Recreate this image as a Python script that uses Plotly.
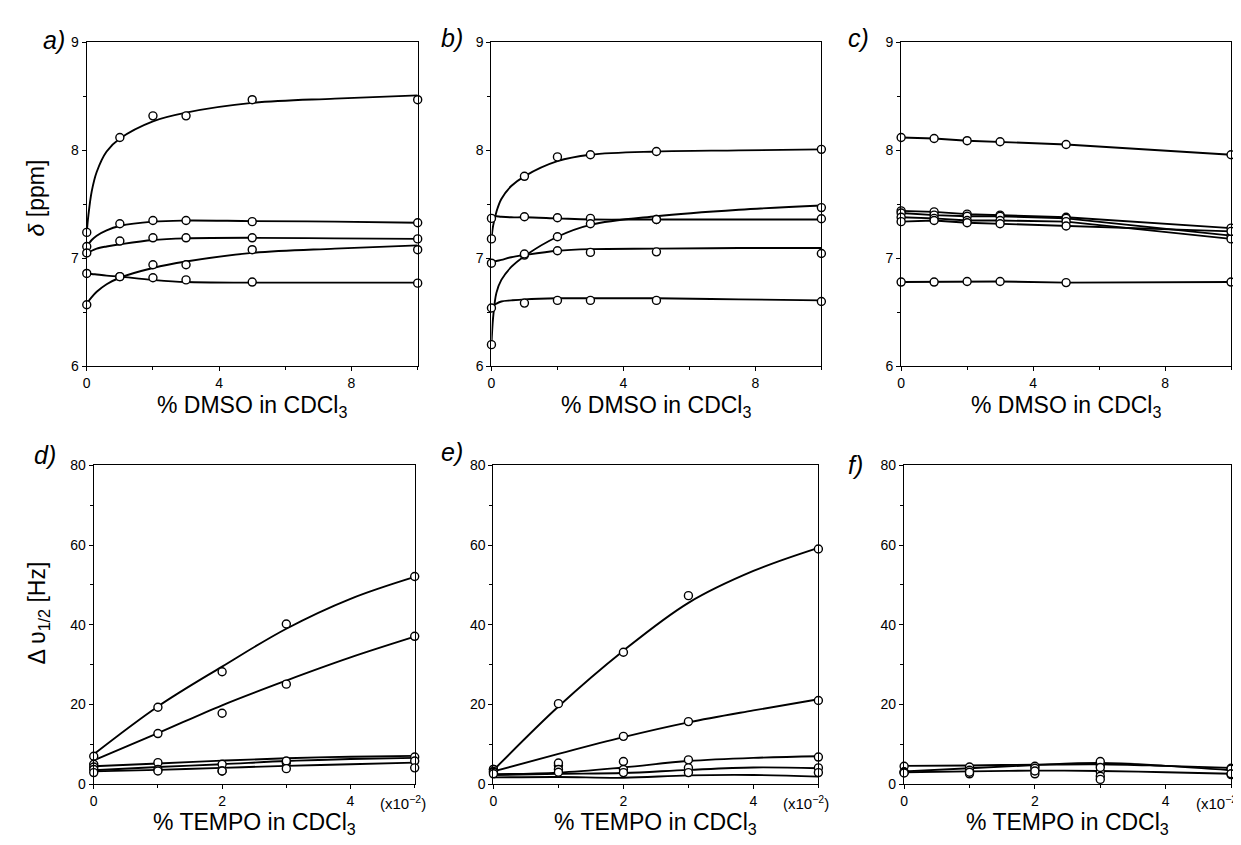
import plotly.graph_objects as go

W, H = 1241, 845

# ---------------- data ----------------
DMSO_X = [0, 1, 2, 3, 5, 10]
TEMPO_X = [0, 1, 2, 3, 5]
FIT_DMSO_X = [0, 0.05, 0.15, 0.3, 0.6, 1, 2, 3, 5, 7.5, 10]
FIT_TEMPO_X = [0, 1, 2, 3, 4, 5]

# panel a: chemical shift (ppm) vs % DMSO
a_pts_1 = [7.24, 8.12, 8.32, 8.32, 8.47, 8.47]
a_pts_2 = [7.11, 7.32, 7.35, 7.35, 7.34, 7.33]
a_pts_3 = [7.05, 7.16, 7.19, 7.19, 7.19, 7.18]
a_pts_4 = [6.57, 6.83, 6.94, 6.94, 7.08, 7.08]
a_pts_5 = [6.86, 6.83, 6.82, 6.80, 6.78, 6.77]
a_fit_1 = [7.24, 7.40, 7.62, 7.80, 7.99, 8.11, 8.27, 8.35, 8.44, 8.48, 8.51]
a_fit_2 = [7.11, 7.13, 7.17, 7.21, 7.26, 7.30, 7.34, 7.35, 7.345, 7.34, 7.33]
a_fit_3 = [7.04, 7.05, 7.07, 7.09, 7.11, 7.13, 7.17, 7.185, 7.19, 7.185, 7.18]
a_fit_4 = [6.57, 6.60, 6.64, 6.69, 6.76, 6.82, 6.91, 6.97, 7.05, 7.09, 7.12]
a_fit_5 = [6.86, 6.86, 6.855, 6.85, 6.84, 6.83, 6.80, 6.78, 6.775, 6.775, 6.775]

# panel b
b_pts_1 = [7.18, 7.76, 7.94, 7.96, 7.99, 8.01]
b_pts_2 = [7.37, 7.385, 7.376, 7.37, 7.36, 7.367]
b_pts_3 = [6.20, 7.03, 7.20, 7.32, 7.36, 7.47]
b_pts_4 = [6.955, 7.04, 7.07, 7.055, 7.06, 7.045]
b_pts_5 = [6.54, 6.585, 6.61, 6.61, 6.61, 6.60]
b_fit_1 = [7.18, 7.30, 7.43, 7.55, 7.67, 7.76, 7.90, 7.96, 7.99, 8.00, 8.01]
b_fit_2 = [7.39, 7.39, 7.39, 7.385, 7.38, 7.38, 7.37, 7.36, 7.36, 7.36, 7.36]
b_fit_3 = [6.20, 6.45, 6.68, 6.80, 6.92, 7.02, 7.20, 7.31, 7.39, 7.45, 7.49]
b_fit_4 = [6.96, 6.965, 6.975, 6.985, 7.01, 7.03, 7.07, 7.085, 7.09, 7.095, 7.095]
b_fit_5 = [6.55, 6.56, 6.58, 6.60, 6.61, 6.62, 6.63, 6.63, 6.63, 6.62, 6.61]

# panel c
c_pts_1 = [8.12, 8.11, 8.09, 8.08, 8.055, 7.96]
c_pts_2 = [7.44, 7.43, 7.41, 7.40, 7.38, 7.28]
c_pts_3 = [7.42, 7.40, 7.39, 7.39, 7.37, 7.21]
c_pts_4 = [7.38, 7.37, 7.35, 7.35, 7.34, 7.18]
c_pts_5 = [7.34, 7.35, 7.33, 7.32, 7.30, 7.25]
c_pts_6 = [6.78, 6.78, 6.785, 6.785, 6.775, 6.78]

# panel d: line width (Hz) vs % TEMPO (x10^-2)
d_pts_1 = [7.0, 19.3, 28.2, 40.2, 52.1]
d_pts_2 = [5.0, 12.7, 17.8, 25.1, 37.1]
d_pts_3 = [4.3, 5.4, 5.0, 5.4, 6.8]
d_pts_4 = [3.7, 3.7, 3.3, 5.8, 5.8]
d_pts_5 = [2.9, 3.3, 3.3, 3.9, 4.1]
d_fit_1 = [7.5, 19.5, 29.5, 39.0, 46.5, 52.0]
d_fit_2 = [6.0, 12.8, 19.8, 26.0, 31.8, 37.0]
d_fit_3 = [4.5, 5.2, 5.9, 6.5, 6.9, 7.1]
d_fit_4 = [3.5, 4.3, 5.0, 5.8, 6.3, 6.6]
d_fit_5 = [3.2, 3.6, 4.1, 4.6, 5.0, 5.4]

# panel e
e_pts_1 = [3.7, 20.2, 33.1, 47.3, 59.0]
e_pts_2 = [3.7, 4.7, 12.0, 15.7, 21.0]
e_pts_3 = [3.2, 5.3, 5.7, 6.1, 6.8]
e_pts_4 = [3.0, 3.7, 3.7, 4.1, 4.1]
e_pts_5 = [2.6, 3.0, 2.9, 2.9, 2.9]
e_fit_1 = [3.5, 19.5, 33.5, 45.5, 53.5, 59.3]
e_fit_2 = [3.2, 7.6, 11.8, 15.5, 18.5, 21.3]
e_fit_3 = [2.5, 2.9, 4.2, 5.8, 6.6, 7.0]
e_fit_4 = [2.3, 2.6, 2.8, 3.6, 4.2, 4.0]
e_fit_5 = [1.7, 1.8, 1.6, 2.2, 2.3, 1.9]

# panel f
f_pts_1 = [4.5, 4.3, 4.5, 4.9, 4.0]
f_pts_2 = [3.1, 3.5, 4.0, 5.7, 3.8]
f_pts_3 = [3.0, 2.6, 2.6, 3.1, 2.4]
f_pts_4 = [2.8, 3.0, 3.3, 2.0, 2.6]
f_extra_x = [3, 3]
f_extra_y = [4.2, 1.2]
f_fit_1 = [4.6, 4.7, 4.9, 5.0, 4.6, 4.1]
f_fit_2 = [3.2, 4.0, 4.8, 5.3, 4.6, 3.5]
f_fit_3 = [3.0, 3.2, 3.4, 3.3, 3.0, 2.6]

PANEL_LABELS = ["a)", "b)", "c)", "d)", "e)", "f)"]
X_TITLE_TOP = "% DMSO in CDCl<sub>3</sub>"
X_TITLE_BOT = "% TEMPO in CDCl<sub>3</sub>"
X_SCALE_NOTE = "(x10<sup>\u22122</sup>)"
Y_TITLE_TOP = "<i>\u03b4</i> [ppm]"
Y_TITLE_BOT = "\u0394 \u03c5<sub>1/2</sub> [Hz]"

# ---------------- layout geometry (pixels) ----------------
top_x = [(75, 407), (481, 812), (892, 1223)]
bot_x = [(82, 404), (483, 809), (895, 1223)]
top_y = (27, 357)
bot_y = (458, 783)

def px(x):
    return x / W

def py(y):
    return 1 - y / H

FONT = "Arial, Liberation Sans, sans-serif"
fig = go.Figure()

def add_fit(ax, xs, ys, shape="spline"):
    fig.add_trace(go.Scatter(x=xs, y=ys, mode="lines", xaxis="x" + ax, yaxis="y" + ax,
                             line=dict(color="black", width=1.9, shape=shape,
                                       smoothing=1.0 if shape == "spline" else None),
                             showlegend=False, hoverinfo="skip"))

def add_pts(ax, xs, ys):
    fig.add_trace(go.Scatter(x=xs, y=ys, mode="markers", xaxis="x" + ax, yaxis="y" + ax,
                             marker=dict(symbol="circle", size=8, color="white",
                                         line=dict(color="black", width=1.4)),
                             cliponaxis=False, showlegend=False))

for f_ in [a_fit_1, a_fit_2, a_fit_3, a_fit_4, a_fit_5]:
    add_fit("", FIT_DMSO_X, f_)
for p_ in [a_pts_1, a_pts_2, a_pts_3, a_pts_4, a_pts_5]:
    add_pts("", DMSO_X, p_)
for f_ in [b_fit_1, b_fit_2, b_fit_3, b_fit_4, b_fit_5]:
    add_fit("2", FIT_DMSO_X, f_)
for p_ in [b_pts_1, b_pts_2, b_pts_3, b_pts_4, b_pts_5]:
    add_pts("2", DMSO_X, p_)
for p_ in [c_pts_1, c_pts_2, c_pts_3, c_pts_4, c_pts_5, c_pts_6]:
    add_fit("3", DMSO_X, p_, shape="linear")
for p_ in [c_pts_1, c_pts_2, c_pts_3, c_pts_4, c_pts_5, c_pts_6]:
    add_pts("3", DMSO_X, p_)
for f_ in [d_fit_1, d_fit_2, d_fit_3, d_fit_4, d_fit_5]:
    add_fit("4", FIT_TEMPO_X, f_)
for p_ in [d_pts_1, d_pts_2, d_pts_3, d_pts_4, d_pts_5]:
    add_pts("4", TEMPO_X, p_)
for f_ in [e_fit_1, e_fit_2, e_fit_3, e_fit_4, e_fit_5]:
    add_fit("5", FIT_TEMPO_X, f_)
for p_ in [e_pts_1, e_pts_2, e_pts_3, e_pts_4, e_pts_5]:
    add_pts("5", TEMPO_X, p_)
for f_ in [f_fit_1, f_fit_2, f_fit_3]:
    add_fit("6", FIT_TEMPO_X, f_)
for p_ in [f_pts_1, f_pts_2, f_pts_3, f_pts_4]:
    add_pts("6", TEMPO_X, p_)
add_pts("6", f_extra_x, f_extra_y)

axis_common = dict(showline=True, linecolor="black", linewidth=1.3, mirror=True,
                   ticks="outside", ticklen=4, tickwidth=1, tickcolor="black",
                   showgrid=False, zeroline=False, tickmode="linear", tick0=0,
                   tickfont=dict(family=FONT, size=14, color="black"))

def minor(d):
    return dict(dtick=d, tick0=0, ticks="outside", ticklen=3, tickwidth=1,
                tickcolor="black", showgrid=False)

layout = dict(width=W, height=H, margin=dict(l=0, r=0, t=0, b=0),
              paper_bgcolor="white", plot_bgcolor="white", showlegend=False)

names = ["", "2", "3", "4", "5", "6"]
for i, n in enumerate(names):
    if i < 3:
        xd = top_x[i]; yd = top_y
        xa = dict(axis_common, range=[0, 10], dtick=4, minor=minor(2))
        ya = dict(axis_common, range=[6, 9], dtick=1, minor=minor(0.5))
    else:
        xd = bot_x[i - 3]; yd = bot_y
        xa = dict(axis_common, range=[0, 5], dtick=2, minor=minor(1))
        ya = dict(axis_common, range=[0, 80], dtick=20, minor=minor(10))
    xa["domain"] = [px(xd[0]), px(xd[1])]
    ya["domain"] = [py(yd[1]), py(yd[0])]
    xa["anchor"] = "y" + n
    ya["anchor"] = "x" + n
    layout["xaxis" + n] = xa
    layout["yaxis" + n] = ya

annotations = []
title_font = dict(family=FONT, size=23, color="black")
for i in range(3):
    cx = (top_x[i][0] + top_x[i][1]) / 2
    annotations.append(dict(x=px(cx), y=py(398), xref="paper", yref="paper",
                            text=X_TITLE_TOP, showarrow=False,
                            font=title_font, xanchor="center", yanchor="middle"))
    cx = (bot_x[i][0] + bot_x[i][1]) / 2
    annotations.append(dict(x=px(cx), y=py(823), xref="paper", yref="paper",
                            text=X_TITLE_BOT, showarrow=False,
                            font=title_font, xanchor="center", yanchor="middle"))
    annotations.append(dict(x=px(bot_x[i][1] - 12), y=py(802), xref="paper", yref="paper",
                            text=X_SCALE_NOTE, showarrow=False,
                            font=dict(family=FONT, size=15, color="black"),
                            xanchor="center", yanchor="middle"))

annotations.append(dict(x=px(25), y=py(185), xref="paper", yref="paper",
                        text=Y_TITLE_TOP, showarrow=False, textangle=-90,
                        font=title_font, xanchor="center", yanchor="middle"))
annotations.append(dict(x=px(27), y=py(608), xref="paper", yref="paper",
                        text=Y_TITLE_BOT, showarrow=False, textangle=-90,
                        font=title_font, xanchor="center", yanchor="middle"))

label_pos = [(42, 24), (441, 22), (849, 22), (33, 447), (441, 444), (846, 458)]
for lab, (lx, ly) in zip(PANEL_LABELS, label_pos):
    annotations.append(dict(x=px(lx), y=py(ly), xref="paper", yref="paper",
                            text="<i>" + lab + "</i>", showarrow=False,
                            font=dict(family=FONT, size=25, color="black"),
                            xanchor="center", yanchor="middle"))

layout["annotations"] = annotations
fig.update_layout(**layout)
fig.write_html("out.html")
